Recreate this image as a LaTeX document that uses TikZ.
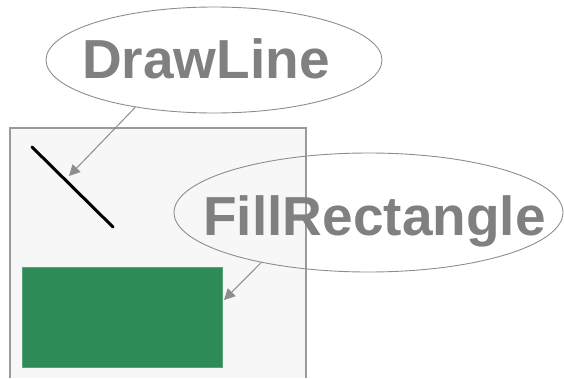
\documentclass[tikz,border=0pt]{standalone}
\usepackage{fontspec}
\setmainfont{Liberation Sans}
\usetikzlibrary{shapes.geometric,arrows.meta}
\definecolor{lblgray}{HTML}{808080}
\definecolor{boxfill}{HTML}{F7F7F7}
\definecolor{boxline}{HTML}{9A9A9A}
\definecolor{seagreenx}{HTML}{2E8B57}
\tikzset{
  bubble/.style={draw=lblgray!90, line width=0.9pt, ellipse, inner sep=0pt},
  lbl/.style={text=lblgray, font=\bfseries\fontsize{55}{60}\selectfont, inner sep=0pt, anchor=base},
  arr/.style={draw=lblgray!90, line width=1pt, -{Triangle[length=11pt,width=11pt]}},
}
\begin{document}
\begin{tikzpicture}[x=1pt,y=-1pt]
\useasboundingbox (0,0) rectangle (564,378);
% canvas box
\fill[boxfill] (10,128) rectangle (306,378);
\draw[boxline, line width=1.4pt] (10,378) -- (10,128) -- (306,128) -- (306,378);
% green rectangle
\node[fill=seagreenx, draw=seagreenx!80!white, line width=0.6pt, minimum width=200pt, minimum height=100pt, inner sep=0pt, anchor=north west] (grect) at (22,267) {};
% black line
\coordinate (la) at (32,147);
\coordinate (lb) at (113,227);
\draw[black, line width=3pt, line cap=round] (la) -- (lb);
% bubbles
\node[bubble, minimum width=336pt, minimum height=106pt] (dl) at (214,60) {};
\node[bubble, minimum width=389pt, minimum height=119pt] (fr) at (368.5,212.5) {};
% labels
\node[lbl] (dlt) at (206,78) {DrawLine};
\node[lbl] (frt) at (374.5,235) {FillRectangle};
% arrows
\coordinate (dltip) at (69,176);
\coordinate (frtip) at (224,300);
\draw[arr] (dl.211) -- (dltip);
\draw[arr] (fr.205) -- (frtip);
\end{tikzpicture}
\end{document}
